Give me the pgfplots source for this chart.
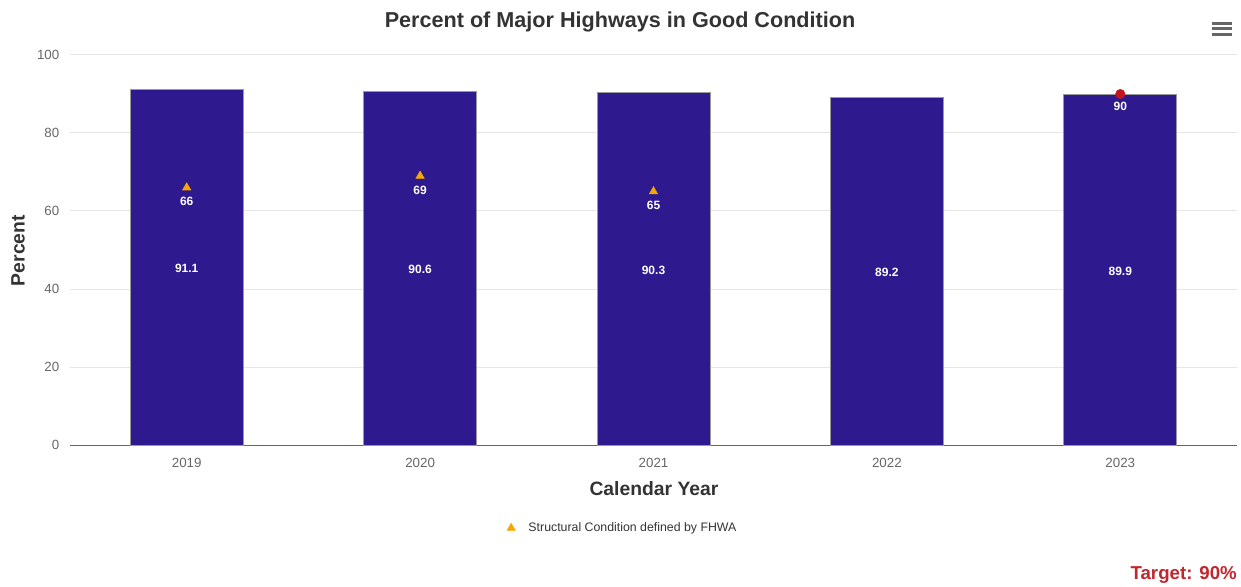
\documentclass[border=0pt]{standalone}
\usepackage{pgfplots}
\pgfplotsset{compat=1.18}
\usepackage{pgfplotstable}
\usepackage{fontspec}
\setmainfont{Liberation Sans}
\definecolor{barcol}{HTML}{2E1A8E}
\definecolor{tri}{HTML}{F7A600}
\definecolor{dotred}{HTML}{C0171E}
\definecolor{txt}{HTML}{333333}
\definecolor{tickc}{HTML}{666666}
\definecolor{gridc}{HTML}{E6E6E6}
\definecolor{targetc}{HTML}{C1272D}

\pgfplotstableread{
x good label
0 91.1 91.1
1 90.6 90.6
2 90.3 90.3
3 89.2 89.2
4 89.9 89.9
}\gooddata

\pgfplotstableread{
x y label
0 66 66
1 69 69
2 65 65
}\structdata

\pgfplotstableread{
x y label
4 90 90
}\targetdata

\begin{document}
\begin{tikzpicture}[x=1pt,y=1pt]
\path (0,0) rectangle (930.75,439.5);
\begin{axis}[
  at={(52.5pt,105.75pt)}, anchor=south west,
  scale only axis, width=875.25pt, height=292.5pt,
  xmin=-0.5, xmax=4.5, ymin=0, ymax=100,
  xtick={0,1,2,3,4}, xticklabels={2019,2020,2021,2022,2023},
  ytick={0,20,40,60,80,100},
  axis x line*=bottom, axis y line*=left,
  x axis line style={-, draw=tickc, line width=0.75pt},
  y axis line style={draw=none},
  major tick length=0pt,
  ymajorgrids, grid style={gridc, line width=0.75pt},
  tick label style={font=\fontsize{10}{12}\selectfont, text=tickc},
  yticklabel style={xshift=-4.5pt},
  xticklabel style={yshift=-6pt},
  /pgf/number format/assume math mode=true,
  legend style={at={(0.4734,-0.213)}, anchor=center, draw=none, fill=none,
    font=\fontsize{9.25}{11}\selectfont, text=txt},
  legend cell align=left,
  legend image code/.code={\path[draw=none,fill=none] (-4pt,-4pt) rectangle (11pt,4pt);
    \draw[only marks] plot coordinates {(0pt,0pt)};},
]
\addplot[ybar, bar width=84.75pt, fill=barcol, draw=gray!80, line width=0.5pt, forget plot]
  table[x=x, y=good]{\gooddata};
\addplot[draw=none, mark=none, forget plot, nodes near coords,
  point meta=explicit symbolic,
  every node near coord/.append style={anchor=center, yshift=-1pt, text=white,
    font=\bfseries\fontsize{9}{11}\selectfont}]
  table[x=x, y expr=\thisrow{good}/2, meta=label]{\gooddata};
\addplot[only marks, mark=triangle*, mark size=3.6pt, color=tri,
  nodes near coords, point meta=explicit symbolic,
  every node near coord/.append style={anchor=center, yshift=-10.5pt, text=white,
    font=\bfseries\fontsize{9}{11}\selectfont}]
  table[x=x, y=y, meta=label]{\structdata};
\addlegendentry{Structural Condition defined by FHWA}
\addplot[only marks, mark=*, mark size=3.5pt, color=dotred, forget plot,
  nodes near coords, point meta=explicit symbolic,
  every node near coord/.append style={anchor=center, yshift=-9pt, text=white,
    font=\bfseries\fontsize{9}{11}\selectfont}]
  table[x=x, y=y, meta=label]{\targetdata};
\end{axis}
\node[font=\bfseries\fontsize{16.2}{19}\selectfont, text=txt] at (465,423)
  {Percent of Major Highways in Good Condition};
\node[rotate=90, font=\bfseries\fontsize{14.5}{17}\selectfont, text=txt] at (13.5,251.5) {Percent};
\node[font=\bfseries\fontsize{14.5}{17}\selectfont, text=txt] at (490.5,72.75) {Calendar Year};
\node[anchor=east, inner sep=0pt, font=\bfseries\fontsize{14}{16}\selectfont, text=targetc] at (927.75,8.25) {Target: 90\%};
\foreach \yy in {422,417.75,413.25}
  \draw[tickc, line width=2.25pt] (909,\yy) -- (924,\yy);
\end{tikzpicture}
\end{document}
